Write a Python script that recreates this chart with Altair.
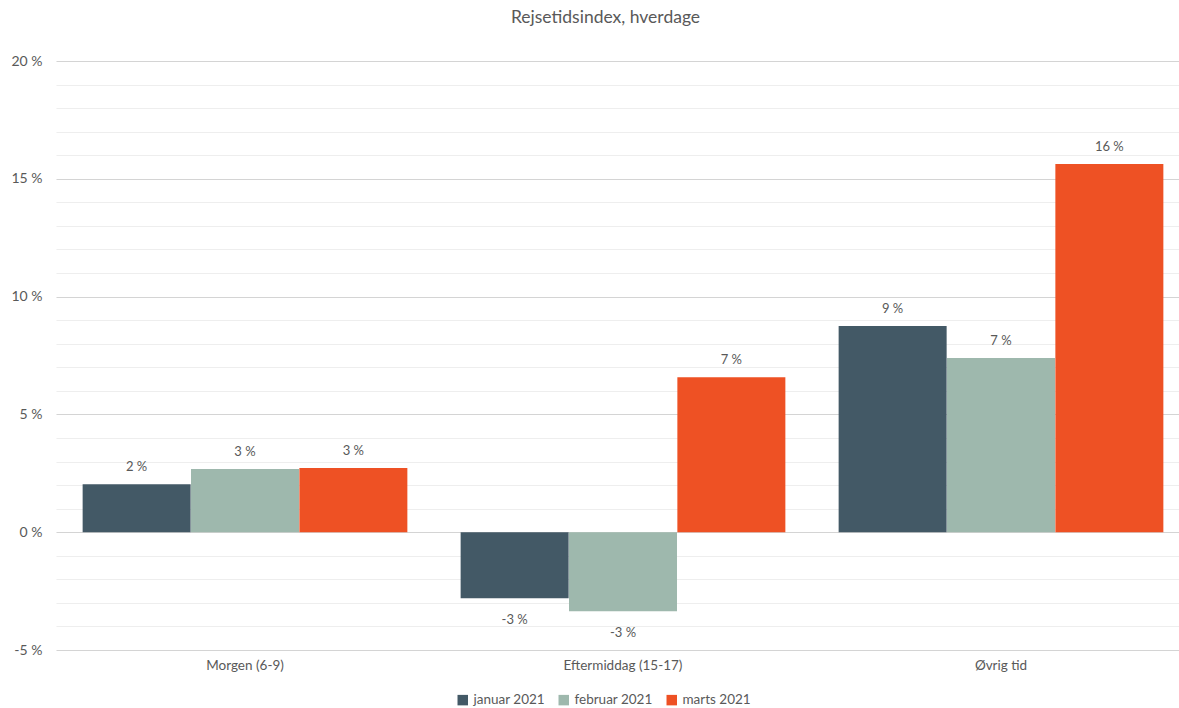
import altair as alt
import pandas as pd

categories = ["Morgen (6-9)", "Eftermiddag (15-17)", "Øvrig tid"]
series = ["januar 2021", "februar 2021", "marts 2021"]
januar = [2.04, -2.8, 8.75]
februar = [2.68, -3.35, 7.39]
marts = [2.72, 6.58, 15.63]
colors = ["#435966", "#9EB8AD", "#EE5124"]

rows = []
for s, vals in zip(series, [januar, februar, marts]):
    for c, v in zip(categories, vals):
        rows.append({"kategori": c, "serie": s, "værdi": v})
df = pd.DataFrame(rows)

FONT = "Lato"
GREY = "#595959"

x = alt.X("kategori:N", sort=categories, title=None,
          scale=alt.Scale(paddingInner=0.14, paddingOuter=0.07, range=[0, 1134]),
          axis=alt.Axis(labelAngle=0, domain=False, ticks=False, labelPadding=8,
                        labelFontSize=13.5, labelColor=GREY, labelFont=FONT))
xo = alt.XOffset("serie:N", sort=series)
y = alt.Y("værdi:Q", title=None,
          scale=alt.Scale(domain=[-5, 20], nice=False),
          axis=alt.Axis(values=list(range(-5, 21)), domain=False, ticks=False,
                        labelExpr="datum.value % 5 === 0 ? datum.value + ' %' : ''",
                        labelFontSize=14, labelColor=GREY, labelFont=FONT, labelPadding=14,
                        gridColor={"condition": {"test": "datum.value % 5 === 0", "value": "#d4d4d4"},
                                   "value": "#eeeeee"},
                        gridWidth=1.2))

base = alt.Chart(df)
bars = base.mark_bar(size=108).encode(
    x=x, xOffset=xo, y=y,
    color=alt.Color("serie:N", sort=series,
                    scale=alt.Scale(domain=series, range=colors),
                    legend=alt.Legend(title=None, orient="none", direction="horizontal",
                                      legendX=400, legendY=632, symbolType="square",
                                      symbolSize=110, labelFontSize=13.5, labelColor=GREY,
                                      labelFont=FONT, columnPadding=12, labelOffset=4)),
)

label_expr = "round(datum['værdi']) + ' %'"
pos = base.transform_filter("datum['værdi'] >= 0").transform_calculate(
    lab=label_expr).mark_text(dy=-17, fontSize=13, color=GREY, font=FONT).encode(
    x=x, xOffset=xo, y=y, text="lab:N")
neg = base.transform_filter("datum['værdi'] < 0").transform_calculate(
    lab=label_expr).mark_text(dy=22, fontSize=13, color=GREY, font=FONT).encode(
    x=x, xOffset=xo, y=y, text="lab:N")

chart = alt.layer(bars, pos, neg).properties(
    width=1119, height=589,
    padding={"left": 56, "top": 61, "right": 4, "bottom": 58},
    autosize=alt.AutoSizeParams(type="none"),
    title=alt.TitleParams("Rejsetidsindex, hverdage", fontSize=17.5, font=FONT,
                          color=GREY, fontWeight="normal", offset=28, dx=-10),
).configure_view(stroke=None)

chart.save("out.html", embed_options={"renderer": "svg", "actions": False})
